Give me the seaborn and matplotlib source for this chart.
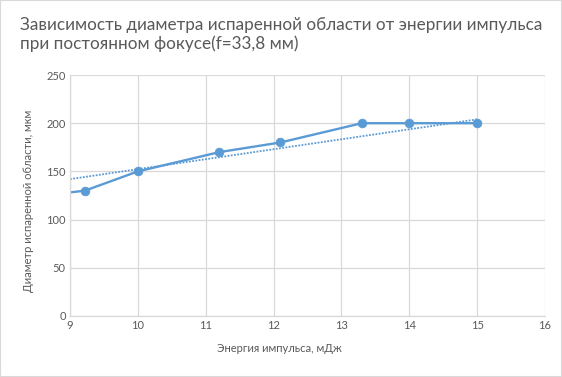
import matplotlib
matplotlib.use("Agg")
import matplotlib.pyplot as plt
import seaborn as sns
import pandas as pd
from matplotlib.patches import Rectangle

energy = [8.6, 9.22, 10.0, 11.2, 12.1, 13.3, 14.0, 15.0]
diameter = [125, 130, 150, 170, 180, 200, 200, 200]
marker_mask = [False, True, True, True, True, True, True, True]
trend_x = [9.0, 15.0]
trend_y = [142, 204]
x_ticks = [9, 10, 11, 12, 13, 14, 15, 16]
y_ticks = [0, 50, 100, 150, 200, 250]
title = "Зависимость диаметра испаренной области от энергии импульса\nпри постоянном фокусе(f=33,8 мм)"
xlabel = "Энергия импульса, мДж"
ylabel = "Диаметр испаренной области, мкм"

sns.set_theme(style="white")
plt.rcParams['font.family'] = ['Lato', 'DejaVu Sans']

blue = "#5B9BD5"
grey_txt = "#595959"
grid = "#D9D9D9"

df = pd.DataFrame({"x": energy, "y": diameter})
tr = pd.DataFrame({"x": trend_x, "y": trend_y})

fig = plt.figure(figsize=(5.62, 3.77), dpi=100)
ax = fig.add_axes([70/562, 1-316/377, 475/562, 241/377])

sns.lineplot(data=tr, x="x", y="y", ax=ax, color=blue, lw=1.3, linestyle=(0, (1, 0.8)))
sns.lineplot(data=df, x="x", y="y", ax=ax, color=blue, lw=1.7, sort=False)
dm = df[marker_mask]
sns.scatterplot(data=dm, x="x", y="y", ax=ax, color=blue, s=40, edgecolor=blue, zorder=5)

ax.set_xlim(9, 16)
ax.set_ylim(0, 250)
ax.set_xticks(x_ticks)
ax.set_yticks(y_ticks)
ax.grid(True, color=grid, lw=0.9)
ax.set_axisbelow(True)
for s in ["top", "right"]:
    ax.spines[s].set_visible(False)
for s in ["left", "bottom"]:
    ax.spines[s].set_color(grid)
    ax.spines[s].set_linewidth(0.9)
ax.tick_params(axis="both", length=0, labelsize=8, colors=grey_txt, pad=3)
ax.set_xlabel("")
ax.set_ylabel("")

fig.text(279/562, 1-349/377, xlabel, ha="center", va="center", fontsize=8, color=grey_txt)
fig.text(29/562, 1-201/377, ylabel, ha="center", va="center", rotation=90, fontsize=8, color=grey_txt)
fig.text(20/562, 1-17/377, title, ha="left", va="top", fontsize=12.3, color=grey_txt, linespacing=1.15)

fig.patches.append(Rectangle((0, 0), 1, 1, transform=fig.transFigure, fill=False,
                             edgecolor=grid, lw=1.5))
fig.savefig("out.png", dpi=100)
